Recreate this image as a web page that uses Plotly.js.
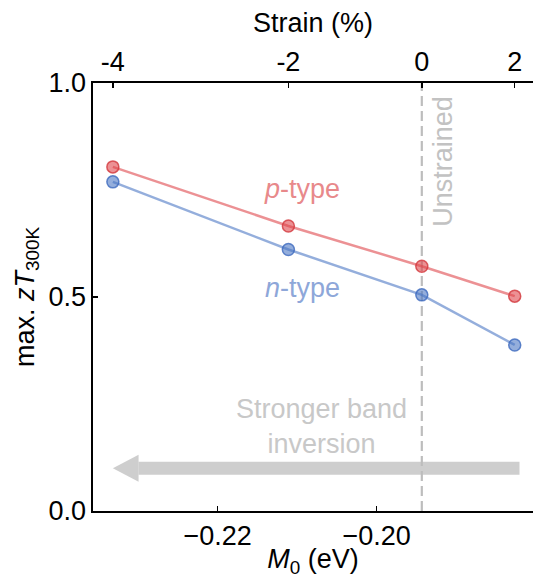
<!DOCTYPE html>
<html>
<head>
<meta charset="utf-8">
<script src="https://cdn.plot.ly/plotly-3.0.1.min.js"></script>
<style>html,body{margin:0;padding:0;background:#fff;}#chart{width:533px;height:578px;}</style>
</head>
<body>
<div id="chart"></div>
<script>
// M0 (eV) values for each strain point
const m0 = [-0.2332, -0.2111, -0.1943, -0.1826];
// Strain (%) labels for the top axis
const strainLabels = ["-4", "-2", "0", "2"];
// max zT at 300 K
const pType = [0.804, 0.666, 0.572, 0.502];
const nType = [0.769, 0.611, 0.505, 0.388];
const yTicks = [0, 0.5, 1.0];

const FONT = "Liberation Sans, Arial, Helvetica, sans-serif";
const FS = 27;

const red = "rgba(222,65,70,0.58)";
const redEdge = "rgba(210,55,60,0.8)";
const blue = "rgba(70,115,195,0.58)";
const blueEdge = "rgba(60,105,190,0.8)";

const traces = [
  {x: m0, y: pType, mode: "lines+markers", type: "scatter", name: "p-type",
   line: {color: red, width: 2.5},
   marker: {size: 12, color: red, line: {color: redEdge, width: 1.5}}},
  {x: m0, y: nType, mode: "lines+markers", type: "scatter", name: "n-type",
   line: {color: blue, width: 2.5},
   marker: {size: 12, color: blue, line: {color: blueEdge, width: 1.5}}},
  {x: m0, y: pType, xaxis: "x2", mode: "markers", type: "scatter",
   marker: {opacity: 0}, hoverinfo: "skip", showlegend: false}
];

const xRange = [-0.2357, -0.1803];
const arrowY = 0.1;
const arrowTail = -0.1820;
const arrowBase = -0.22996;
const headHalf = 0.0315;

const layout = {
  width: 533, height: 578,
  margin: {l: 92.5, r: 0, t: 83, b: 67, pad: 0},
  paper_bgcolor: "#fff", plot_bgcolor: "#fff",
  showlegend: false,
  font: {family: FONT, size: FS, color: "#000"},
  xaxis: {
    range: xRange, dtick: 0.02, tick0: -0.22, tickformat: ".2f",
    showgrid: false, zeroline: false,
    showline: true, linecolor: "#000", linewidth: 1.6, mirror: false,
    ticks: "inside", ticklen: 5, tickwidth: 1.4, tickcolor: "#000",
    tickfont: {size: FS},
    title: {text: "<i>M</i><sub>0</sub> (eV)", font: {size: FS}, standoff: 8}
  },
  xaxis2: {
    overlaying: "x", side: "top", anchor: "y", range: xRange,
    tickmode: "array", tickvals: m0, ticktext: strainLabels,
    showgrid: false, zeroline: false,
    showline: true, linecolor: "#000", linewidth: 1.6,
    ticks: "inside", ticklen: 5, tickwidth: 1.4, tickcolor: "#000",
    tickfont: {size: FS},
    title: {text: "Strain (%)", font: {size: FS}, standoff: 6}
  },
  yaxis: {
    range: [0, 1], tickmode: "array", tickvals: yTicks, tickformat: ".1f",
    showgrid: false, zeroline: false,
    showline: true, linecolor: "#000", linewidth: 1.6, mirror: false,
    ticks: "inside", ticklen: 5, tickwidth: 1.4, tickcolor: "#000",
    tickfont: {size: FS},
    title: {text: "max. <i>zT</i><sub>300K</sub>", font: {size: FS}, standoff: 6}
  },
  shapes: [
    {type: "line", xref: "x", yref: "paper", x0: m0[2], x1: m0[2], y0: 0, y1: 1,
     line: {color: "#bdbdbd", width: 2.2, dash: "10px,5px"}, layer: "below"},
    {type: "line", xref: "x", yref: "y", x0: arrowTail, x1: arrowBase, y0: arrowY, y1: arrowY,
     line: {color: "rgba(190,190,190,0.75)", width: 13}, layer: "above"},
    {type: "path", xref: "x", yref: "y",
     path: `M ${arrowBase},${arrowY + headHalf} L ${m0[0]},${arrowY} L ${arrowBase},${arrowY - headHalf} Z`,
     fillcolor: "rgba(190,190,190,0.75)", line: {width: 0}, layer: "above"}
  ],
  annotations: [
    {x: -0.20933, y: 0.753, xref: "x", yref: "y", showarrow: false,
     text: "<i>p</i>-type", font: {size: FS, color: "#e8898b"}},
    {x: -0.20933, y: 0.520, xref: "x", yref: "y", showarrow: false,
     text: "<i>n</i>-type", font: {size: FS, color: "#8ea7d9"}},
    {x: m0[2], xshift: 21, y: 0.818, xref: "x", yref: "y", showarrow: false,
     textangle: -90, text: "Unstrained", font: {size: FS, color: "#c2c2c2"}},
    {x: -0.20689, y: 0.197, xref: "x", yref: "y", showarrow: false,
     text: "Stronger band<br>inversion", font: {size: FS, color: "#c8c8c8"}}
  ]
};

Plotly.newPlot("chart", traces, layout, {displayModeBar: false, staticPlot: true});
</script>
</body>
</html>
